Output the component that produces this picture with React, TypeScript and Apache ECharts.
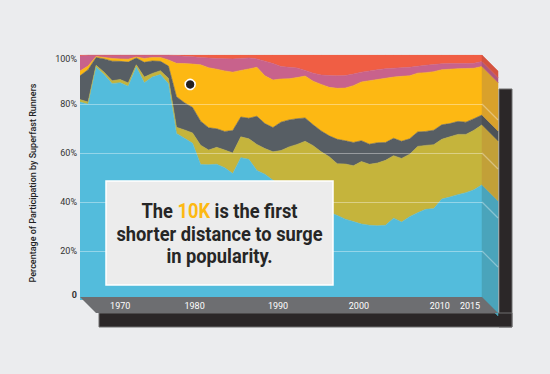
import React, { useEffect, useRef } from "react";
import * as echarts from "echarts";

// ---------- data ----------
const years = [
  1965, 1966, 1967, 1968, 1969, 1970, 1971, 1972, 1973, 1974,
  1975, 1976, 1977, 1978, 1979, 1980, 1981, 1982, 1983, 1984,
  1985, 1986, 1987, 1988, 1989, 1990, 1991, 1992, 1993, 1994,
  1995, 1996, 1997, 1998, 1999, 2000, 2001, 2002, 2003, 2004,
  2005, 2006, 2007, 2008, 2009, 2010, 2011, 2012, 2013, 2014, 2015,
];

const blueSeries = [
  80.8, 79.9, 95.1, 92.0, 88.3, 88.7, 87.2, 95.1, 88.7, 91.0,
  92.0, 88.3, 68.0, 66.0, 64.0, 55.3, 55.2, 55.4, 54.0, 51.6,
  58.1, 57.4, 52.9, 51.3, 48.9, 46.5, 44.5, 42.0, 40.0, 38.5,
  37.0, 35.8, 34.5, 33.0, 32.0, 31.0, 30.5, 30.3, 30.5, 33.4,
  31.8, 34.0, 35.6, 37.0, 37.3, 41.2, 42.0, 43.0, 43.8, 45.0, 47.0,
];
const oliveSeries = [
  1.0, 0.9, 0.7, 1.0, 1.2, 1.3, 1.4, 0.9, 2.3, 1.5,
  1.6, 2.2, 2.5, 3.4, 4.2, 7.9, 6.0, 6.9, 7.2, 8.4,
  8.5, 8.4, 10.6, 10.5, 11.6, 14.5, 18.0, 21.5, 24.8, 24.5,
  23.5, 22.7, 21.1, 22.5, 22.8, 25.5, 24.9, 25.6, 26.5, 25.5,
  26.0, 25.5, 27.1, 26.1, 26.1, 24.4, 24.6, 24.6, 23.8, 24.3, 24.5,
];
const graySeries = [
  9.7, 13.2, 3.2, 5.4, 8.0, 7.4, 8.5, 2.8, 6.0, 5.1,
  3.8, 5.0, 12.5, 11.1, 10.4, 9.8, 9.1, 7.6, 7.6, 9.2,
  8.1, 8.4, 11.5, 10.2, 9.9, 11.6, 11.0, 10.5, 9.5, 8.5,
  8.5, 8.5, 10.0, 9.5, 9.5, 8.5, 8.2, 8.3, 7.3, 7.1,
  7.0, 6.3, 5.9, 5.7, 5.9, 5.9, 5.4, 5.3, 5.0, 4.7, 4.0,
];
const orangeSeries = [
  2.0, 1.5, 0.4, 0.6, 1.1, 1.0, 1.2, 0.4, 1.6, 1.4,
  1.6, 2.5, 13.6, 16.0, 17.7, 23.0, 24.5, 24.3, 24.7, 23.8,
  19.0, 20.1, 20.0, 19.5, 19.4, 17.6, 16.8, 16.8, 17.1, 17.8,
  19.0, 19.8, 20.8, 21.5, 23.2, 24.0, 25.9, 25.8, 26.2, 25.0,
  26.5, 25.7, 24.0, 24.0, 23.9, 22.5, 22.2, 21.5, 21.9, 20.6, 19.8,
];
const pinkSeries = [
  6.1, 4.5, 0.6, 1.0, 1.4, 1.6, 1.7, 0.8, 1.4, 1.0,
  1.0, 2.0, 3.2, 3.0, 3.0, 3.0, 4.0, 4.4, 5.0, 5.4,
  4.9, 4.5, 3.4, 6.0, 6.7, 5.1, 4.7, 3.9, 2.3, 3.3,
  3.8, 4.8, 5.1, 5.1, 4.7, 4.0, 4.0, 4.0, 3.9, 3.6,
  3.5, 3.5, 2.8, 3.0, 2.9, 2.4, 2.3, 2.1, 2.0, 2.0, 2.0,
];
const redSeries = [
  0.4, 0, 0, 0, 0, 0, 0, 0, 0, 0,
  0, 0, 0.2, 0.5, 0.7, 1.0, 1.2, 1.4, 1.5, 1.6,
  1.4, 1.2, 1.6, 2.5, 3.5, 4.7, 5.0, 5.3, 6.3, 7.4,
  8.2, 8.4, 8.5, 8.4, 7.8, 7.0, 6.5, 6.0, 5.6, 5.4,
  5.2, 5.0, 4.6, 4.2, 3.9, 3.6, 3.5, 3.5, 3.5, 3.4, 2.7,
];

const yTicks = [0, 20, 40, 60, 80, 100];
const gridValues = [20, 40, 60, 80];
const yearLabels = [1970, 1980, 1990, 2000, 2010, 2015];
const highlightPoint = [1978.7, 88];

const titleText = "Percentage of Participation by Superfast Runners";
const calloutLines = ["{a|The }{b|10K}{a| is the first}", "{a|shorter distance to surge}", "{a|in popularity.}"];

// ---------- styles ----------
const bandValues = [blueSeries, oliveSeries, graySeries, orangeSeries, pinkSeries, redSeries];
const bandColors = ["#53bcdc", "#c5b43c", "#575e64", "#fdb813", "#c8628c", "#f05e44"];
const sideColors = ["#4aa4bb", "#c2a038", "#4d5257", "#d9a12b", "#b0567c", "#d4533f"];
const labelShift: Record<number, number> = { 1970: 0, 1980: 12, 1990: 6, 2000: 5, 2010: 4, 2015: 24 };

const GRID = { left: 80, top: 55, width: 402, height: 245 };
const DEPTH = 16;
const BG = "#ebecee";

export default function App() {
  const ref = useRef<HTMLDivElement>(null);

  useEffect(() => {
    if (!ref.current) return;
    const chart = echarts.init(ref.current, undefined, { renderer: "svg" });

    const last = years.length - 1;
    const lastYear = years[last];
    const sideData: number[][] = [];
    let cum = 0;
    bandValues.forEach((vals, k) => {
      const lo = cum;
      cum += vals[last];
      sideData.push([lastYear, lo, cum, k]);
    });

    const right = GRID.left + GRID.width;
    const bottom = GRID.top + GRID.height;
    const floorTop = bottom - 3;
    const floorBottom = floorTop + DEPTH;
    const shadowBottom = floorBottom + 14;

    const rich: any = {};
    yearLabels.forEach((y) => {
      rich["y" + y] = { color: "#ffffff", fontSize: 9, fontFamily: "Roboto", padding: [0, labelShift[y], 0, 0] };
    });

    const option: any = {
      animation: false,
      backgroundColor: BG,
      grid: { left: GRID.left, top: GRID.top, width: GRID.width, height: GRID.height },
      xAxis: [
        {
          type: "category",
          data: years.map(String),
          boundaryGap: false,
          axisLine: { show: false },
          axisTick: { show: false },
          splitLine: { show: false },
          z: 20,
          axisLabel: {
            margin: 1,
            interval: (_i: number, v: string) => yearLabels.includes(Number(v)),
            formatter: (v: string) => `{y${v}|${v}}`,
            rich,
          },
        },
        {
          type: "value",
          min: 1965,
          max: 2015,
          show: false,
          splitLine: { show: false },
        },
      ],
      yAxis: {
        type: "value",
        min: 0,
        max: 100,
        interval: 20,
        axisLine: { show: false },
        axisTick: { show: false },
        splitLine: { show: false },
        axisLabel: {
          margin: 3,
          color: "#333",
          fontSize: 9,
          fontFamily: "Roboto",
          formatter: (v: number) =>
            v === 100 ? "{t|100%}" : v === 0 ? "{z|0}" : yTicks.includes(v) ? `${v}%` : "",
          rich: {
            t: { color: "#333", fontSize: 9, fontFamily: "Roboto", padding: [8, 0, 0, 0] },
            z: { color: "#333", fontSize: 9, fontFamily: "Roboto", fontWeight: "bold", padding: [0, 0, 10, 0] },
          },
        },
      },
      series: [
        ...bandValues.map((vals, k) => ({
          type: "line",
          stack: "total",
          xAxisIndex: 0,
          data: vals,
          symbol: "none",
          showSymbol: false,
          silent: true,
          z: 2,
          lineStyle: { width: 0.6, color: bandColors[k] },
          itemStyle: { color: bandColors[k] },
          areaStyle: { color: bandColors[k], opacity: 1 },
        })),
        {
          type: "custom",
          xAxisIndex: 1,
          clip: false,
          silent: true,
          z: 3,
          encode: { x: 0, y: [1, 2] },
          data: sideData,
          renderItem: (_p: any, api: any) => {
            const x = api.value(0);
            const lo = api.coord([x, api.value(1)]);
            const hi = api.coord([x, api.value(2)]);
            const c = sideColors[api.value(3)];
            return {
              type: "polygon",
              shape: {
                points: [hi, [hi[0] + DEPTH, hi[1] + DEPTH], [lo[0] + DEPTH, lo[1] + DEPTH], lo],
              },
              style: { fill: c, stroke: c, lineWidth: 0.5 },
            };
          },
        },
        {
          type: "custom",
          xAxisIndex: 1,
          clip: false,
          silent: true,
          z: 4,
          data: gridValues.map((v) => [lastYear, v]),
          renderItem: (_p: any, api: any) => {
            const p = api.coord([api.value(0), api.value(1)]);
            return {
              type: "line",
              shape: { x1: p[0], y1: p[1], x2: p[0] + DEPTH, y2: p[1] + DEPTH },
              style: { stroke: "rgba(255,255,255,0.35)", lineWidth: 1.2 },
            };
          },
        },
        {
          type: "scatter",
          xAxisIndex: 1,
          z: 6,
          silent: true,
          data: [highlightPoint],
          symbolSize: 10,
          itemStyle: { color: "#231f20", borderColor: "#ffffff", borderWidth: 1.6, opacity: 1 },
          markLine: {
            silent: true,
            symbol: "none",
            label: { show: false },
            lineStyle: { color: "rgba(255,255,255,0.38)", width: 1.2, type: "solid" },
            data: gridValues.map((v) => ({ yAxis: v })),
          },
        },
      ],
      graphic: [
        {
          type: "rect",
          z: 1,
          shape: { x: right + DEPTH + 1, y: GRID.top + 34, width: 13, height: shadowBottom - (GRID.top + 34) },
          style: { fill: "#2b2728", stroke: "#6f6f6f", lineWidth: 1 },
        },
        {
          type: "rect",
          z: 1,
          shape: { x: GRID.left + 19, y: floorBottom, width: right + DEPTH + 14 - (GRID.left + 19), height: 14 },
          style: { fill: "#2b2728", stroke: "#6f6f6f", lineWidth: 1 },
        },
        {
          type: "polygon",
          z: 10,
          shape: {
            points: [
              [GRID.left, floorTop],
              [right, floorTop],
              [right + DEPTH, floorBottom],
              [GRID.left + DEPTH, floorBottom],
            ],
          },
          style: { fill: "#6d6e71" },
        },
        {
          type: "rect",
          z: 30,
          shape: { x: 106, y: 181, width: 227, height: 104 },
          style: { fill: "#ececec", stroke: "#ffffff", lineWidth: 1.5 },
        },
        {
          type: "text",
          z: 31,
          x: 219.5,
          y: 234,
          scaleX: 0.87,
          style: {
            text: calloutLines.join("\n"),
            align: "center",
            verticalAlign: "middle",
            fontSize: 21,
            fontWeight: "bold",
            fontFamily: "Roboto",
            lineHeight: 22.5,
            fill: "#262626",
            rich: {
              a: { fill: "#262626", fontSize: 21, fontWeight: "bold", fontFamily: "Roboto", lineHeight: 22.5 },
              b: { fill: "#fdb913", fontSize: 21, fontWeight: "bold", fontFamily: "Roboto", lineHeight: 22.5 },
            },
          },
        },
        {
          type: "text",
          z: 31,
          x: 33,
          y: 183,
          rotation: Math.PI / 2,
          style: {
            text: titleText,
            align: "center",
            verticalAlign: "middle",
            fontSize: 9,
            fontWeight: 500,
            fontFamily: "Roboto",
            fill: "#222222",
          },
        },
      ],
    };

    chart.setOption(option);
    return () => chart.dispose();
  }, []);

  return (
    <div
      ref={ref}
      style={{ position: "fixed", left: 0, top: 0, width: 550, height: 374, background: BG }}
    />
  );
}
